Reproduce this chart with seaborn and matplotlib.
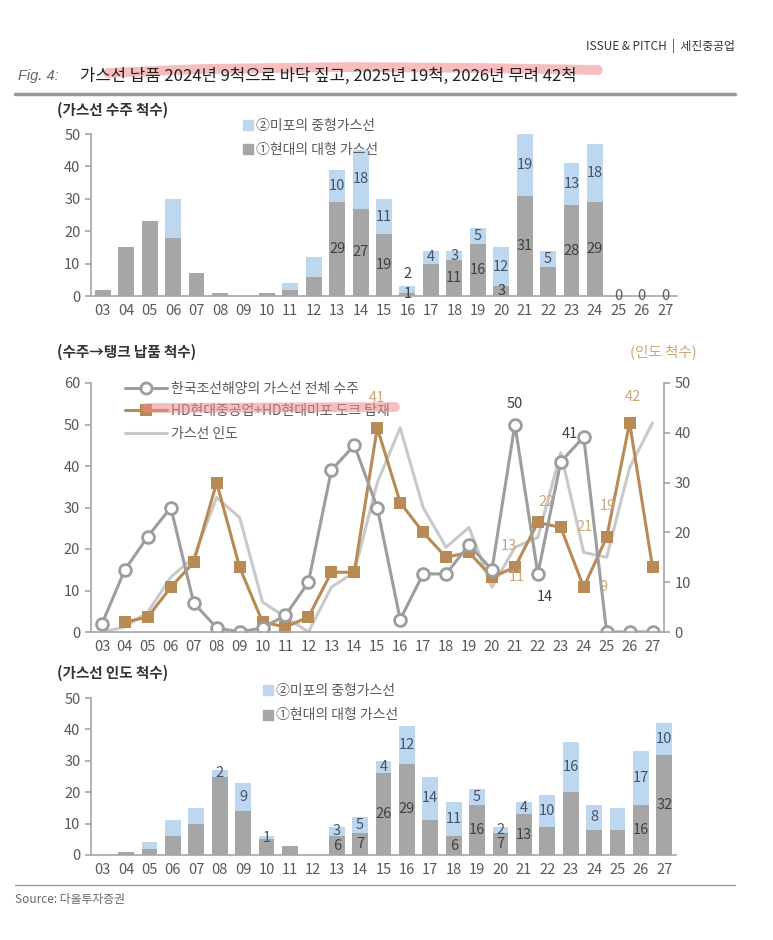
import numpy as np
import matplotlib
matplotlib.use("Agg")
import matplotlib.pyplot as plt
from matplotlib.lines import Line2D
import seaborn as sns

# 연도 (2003~2027)
years = ["03", "04", "05", "06", "07", "08", "09", "10", "11", "12", "13", "14", "15",
         "16", "17", "18", "19", "20", "21", "22", "23", "24", "25", "26", "27"]

# 가스선 수주 척수
order_large = [2, 15, 23, 18, 7, 1, 0, 1, 2, 6, 29, 27, 19, 1, 10, 11, 16, 3, 31, 9, 28, 29, 0, 0, 0]
order_medium = [0, 0, 0, 12, 0, 0, 0, 0, 2, 6, 10, 18, 11, 2, 4, 3, 5, 12, 19, 5, 13, 18, 0, 0, 0]

# 가스선 인도 척수
deliv_large = [0, 1, 2, 6, 10, 25, 14, 5, 3, 0, 6, 7, 26, 29, 11, 6, 16, 7, 13, 9, 20, 8, 8, 16, 32]
deliv_medium = [0, 0, 2, 5, 5, 2, 9, 1, 0, 0, 3, 5, 4, 12, 14, 11, 5, 2, 4, 10, 16, 8, 7, 17, 10]

# HD현대중공업+HD현대미포 도크 탑재
dock = [np.nan, 2, 3, 9, 14, 30, 13, 2, 1, 3, 12, 12, 41, 26, 20, 15, 16, 11, 13, 22, 21, 9, 19, 42, 13]

# 값 라벨을 표시하는 연도
order_large_lbl = ["13", "14", "15", "16", "18", "19", "20", "21", "23", "24"]
order_medium_lbl = ["13", "14", "15", "17", "18", "19", "20", "21", "22", "23", "24"]
deliv_large_lbl = ["13", "14", "15", "16", "18", "19", "20", "21", "26", "27"]
deliv_medium_lbl = ["08", "09", "10", "13", "14", "15", "16", "17", "18", "19", "20", "21",
                    "22", "23", "24", "26", "27"]

GRAY = "#a6a6a6"
BLUE = "#bdd7ee"
TAN = "#b88a55"
TAN_TXT = "#c9a777"
LINE_GRAY = "#9d9d9d"
LIGHT = "#c9c9c9"
TXT = "#595959"

sns.set_theme(style="white")
plt.rcParams["font.family"] = ["Noto Sans CJK KR", "DejaVu Sans"]
plt.rcParams["axes.unicode_minus"] = False

W, H = 773, 940
fig = plt.figure(figsize=(W / 100, H / 100), dpi=100)


def fx(px):
    return px / W


def fy(py):
    return 1 - py / H


def style_axis(ax, n):
    for s in ["top", "right"]:
        ax.spines[s].set_visible(False)
    for s in ["left", "bottom"]:
        ax.spines[s].set_color(GRAY)
        ax.spines[s].set_linewidth(1.2)
    ax.set_xlim(-0.5, n - 0.5)
    ax.set_xticks(np.arange(n))
    ax.set_xticklabels(years)
    ax.set_xticks(np.arange(n + 1) - 0.5, minor=True)
    ax.tick_params(axis="x", which="major", length=0, pad=6, labelsize=10.5, labelcolor=TXT)
    ax.tick_params(axis="x", which="minor", length=4, width=1.2, color=GRAY, direction="out")
    ax.tick_params(axis="y", length=4, width=1.2, color=GRAY, direction="out",
                   labelsize=10.5, labelcolor=TXT, left=True)
    ax.set_xlabel("")
    ax.set_ylabel("")
    ax.grid(False)


def stacked(ax, large, medium, large_lbl, medium_lbl):
    large = np.array(large)
    medium = np.array(medium)
    sns.barplot(x=years, y=large, order=years, color=GRAY, saturation=1, width=0.68,
                errorbar=None, linewidth=0, ax=ax)
    sns.barplot(x=years, y=medium, order=years, bottom=large, color=BLUE, saturation=1,
                width=0.68, errorbar=None, linewidth=0, ax=ax)
    for i, yr in enumerate(years):
        if yr in large_lbl:
            ax.text(i, large[i] / 2, str(large[i]), ha="center", va="center",
                    fontsize=10.5, color="#404040")
        if yr in medium_lbl:
            ax.text(i, large[i] + medium[i] / 2, str(medium[i]), ha="center", va="center",
                    fontsize=10.5, color="#44546a")


def bar_legend(ax, x, y):
    handles = [Line2D([], [], ls="", marker="s", markersize=7, color=BLUE),
               Line2D([], [], ls="", marker="s", markersize=7, color=GRAY)]
    ax.legend(handles, ["②미포의 중형가스선", "①현대의 대형 가스선"], loc="upper left",
              bbox_to_anchor=(fx(x), fy(y)), bbox_transform=fig.transFigure, frameon=False,
              fontsize=10, handlelength=0.8, handletextpad=0.2, labelspacing=0.75,
              labelcolor=TXT, borderpad=0)


n = len(years)

# 1) 가스선 수주 척수
ax1 = fig.add_axes([fx(91), fy(296), fx(677 - 91), fy(134) - fy(296)])
stacked(ax1, order_large, order_medium, order_large_lbl, order_medium_lbl)
i16 = years.index("16")
ax1.text(i16, order_large[i16] + order_medium[i16] + 3.8, str(order_medium[i16]),
         ha="center", va="center", fontsize=10.5, color="#404040")
for yr in ["25", "26", "27"]:
    i = years.index(yr)
    ax1.text(i, 0, "0", ha="center", va="center", fontsize=10.5, color=TXT)
ax1.set_ylim(0, 50)
ax1.set_yticks(range(0, 51, 10))
style_axis(ax1, n)
bar_legend(ax1, 235, 112)
fig.text(fx(57), fy(110), "(가스선 수주 척수)", fontsize=10.5, color="#333333",
         fontweight="bold", va="center")

# 2) 수주 -> 탱크 납품 척수
xpos = np.arange(n)
order_total = np.array(order_large) + np.array(order_medium)
deliv_total = np.array(deliv_large) + np.array(deliv_medium)

axm = fig.add_axes([fx(90.5), fy(632), fx(664 - 90.5), fy(383) - fy(632)])
axr = axm.twinx()
axm.set_zorder(axr.get_zorder() + 1)
axm.patch.set_visible(False)

sns.lineplot(x=xpos, y=deliv_total, ax=axr, color=LIGHT, linewidth=2.2, estimator=None, sort=False)
sns.lineplot(x=xpos, y=np.array(dock, dtype=float), ax=axr, color=TAN, linewidth=2.2,
             marker="s", markersize=9, markeredgewidth=0, estimator=None, sort=False)
sns.lineplot(x=xpos, y=order_total, ax=axm, color=LINE_GRAY, linewidth=2.2, marker="o",
             markersize=8.5, markerfacecolor="white", markeredgecolor=LINE_GRAY,
             markeredgewidth=2, estimator=None, sort=False)

axm.set_ylim(0, 60)
axm.set_yticks(range(0, 61, 10))
axr.set_ylim(0, 50)
axr.set_yticks(range(0, 51, 10))
style_axis(axm, n)
for s in ["top", "left", "bottom"]:
    axr.spines[s].set_visible(False)
axr.spines["right"].set_color(GRAY)
axr.spines["right"].set_linewidth(1.2)
axr.tick_params(axis="y", length=4, width=1.2, color=GRAY, direction="out",
                labelsize=10.5, labelcolor=TXT, right=True)
axr.set_ylabel("")
axr.grid(False)
axr.set_xlim(-0.5, n - 0.5)

# 데이터 라벨
def ann(ax, yr, vals, dx, dy, color):
    i = years.index(yr)
    ax.annotate(f"{vals[i]:.0f}", (i, vals[i]), xytext=(dx, dy), textcoords="offset pixels",
                ha="center", va="center", fontsize=10.5, color=color)


ann(axm, "21", order_total, 0, 21, "#404040")
ann(axm, "23", order_total, 9, 28, "#404040")
ann(axm, "22", order_total, 7, -23, "#404040")
ann(axr, "15", dock, 0, 30, TAN_TXT)
ann(axr, "20", dock, 25, 0, TAN_TXT)
ann(axr, "21", dock, -6, 21, TAN_TXT)
ann(axr, "22", dock, 9, 20, TAN_TXT)
ann(axr, "23", dock, 24, 0, TAN_TXT)
ann(axr, "24", dock, 20, 0, TAN_TXT)
ann(axr, "25", dock, 1, 31, TAN_TXT)
ann(axr, "26", dock, 3, 26, TAN_TXT)

line_handles = [
    Line2D([], [], color=LINE_GRAY, lw=2.2, marker="o", markersize=8, markerfacecolor="white",
           markeredgecolor=LINE_GRAY, markeredgewidth=2),
    Line2D([], [], color=TAN, lw=2.2, marker="s", markersize=8, markeredgewidth=0),
    Line2D([], [], color=LIGHT, lw=2.2),
]
axm.legend(line_handles, ["한국조선해양의 가스선 전체 수주", "HD현대중공업+HD현대미포 도크 탑재", "가스선 인도"],
           loc="upper left", bbox_to_anchor=(fx(118), fy(375)), bbox_transform=fig.transFigure,
           frameon=False, fontsize=10, handlelength=3.0, handletextpad=0.3, labelspacing=0.6,
           labelcolor=TXT, borderpad=0)
fig.text(fx(57), fy(352), "(수주→탱크 납품 척수)", fontsize=10.5, color="#333333",
         fontweight="bold", va="center")
fig.text(fx(697), fy(352), "(인도 척수)", fontsize=10.5, color=TAN_TXT, va="center", ha="right")

# 3) 가스선 인도 척수
ax3 = fig.add_axes([fx(91), fy(855), fx(676 - 91), fy(698) - fy(855)])
stacked(ax3, deliv_large, deliv_medium, deliv_large_lbl, deliv_medium_lbl)
ax3.set_ylim(0, 50)
ax3.set_yticks(range(0, 51, 10))
style_axis(ax3, n)
bar_legend(ax3, 255, 677)
fig.text(fx(57), fy(673), "(가스선 인도 척수)", fontsize=10.5, color="#333333",
         fontweight="bold", va="center")

# 머리말, 제목, 출처
fig.text(fx(735), fy(46), "ISSUE & PITCH  |  세진중공업", fontsize=8.5, color="#333333",
         ha="right", va="center")
fig.text(fx(18), fy(76), "Fig. 4:", fontsize=10.5, color="#666666", style="italic",
         family=["Liberation Sans", "DejaVu Sans"], va="center")
fig.text(fx(80), fy(76), "가스선 납품 2024년 9척으로 바닥 짚고, 2025년 19척, 2026년 무려 42척",
         fontsize=12, color="#222222", va="center")
fig.add_artist(Line2D([fx(15), fx(735)], [fy(94), fy(94)], color="#9a9a9a", lw=2.5))
fig.add_artist(Line2D([fx(15), fx(735)], [fy(885), fy(885)], color="#9a9a9a", lw=1))
fig.text(fx(15), fy(900), "Source: 다올투자증권", fontsize=8.5, color="#666666", va="center")

# 형광펜 표시
hx = [108, 200, 350, 480, 598]
hy = [73, 69, 67, 68, 70]
fig.add_artist(Line2D([fx(v) for v in hx], [fy(v) for v in hy], color="#f08a8a", alpha=0.55,
                      lw=7, solid_capstyle="round"))
fig.add_artist(Line2D([fx(147), fx(395)], [fy(408), fy(407)], color="#f08a8a", alpha=0.55,
                      lw=7, solid_capstyle="round"))

fig.savefig("out.png", dpi=100)
